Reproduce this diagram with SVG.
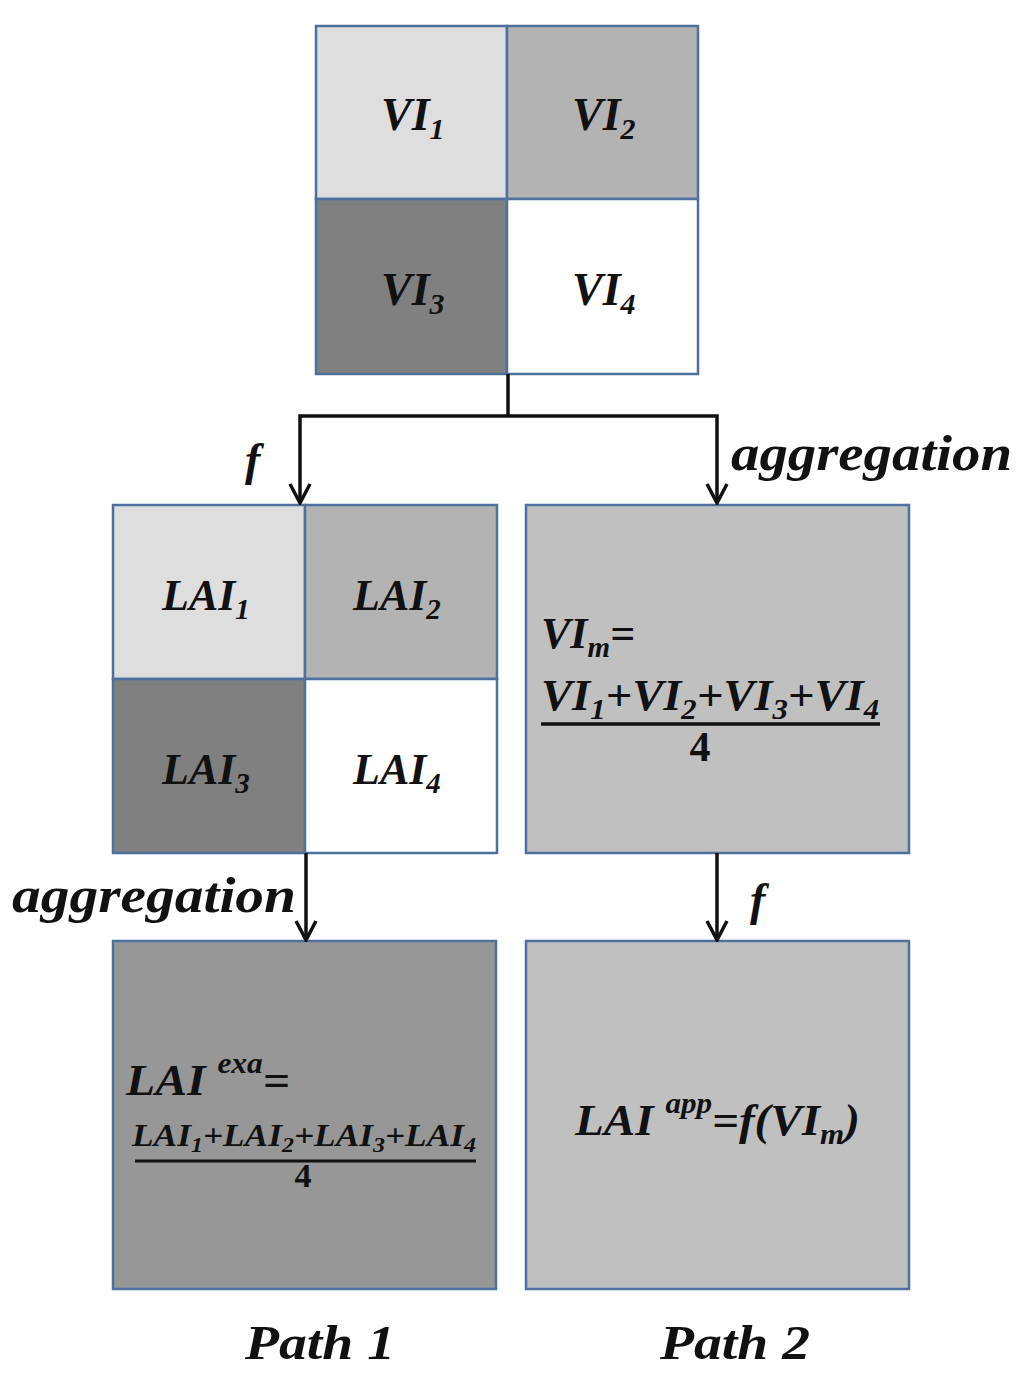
<svg xmlns="http://www.w3.org/2000/svg" width="1024" height="1376" viewBox="0 0 1024 1376">
<defs>
<style>
.c{stroke:#4f6f9c;stroke-width:2.5}
.t{font-family:"Liberation Serif","Times New Roman",serif;font-weight:bold;font-style:italic;fill:#111}
.n{font-family:"Liberation Serif","Times New Roman",serif;font-weight:bold;fill:#111}
.l{stroke:#111;stroke-width:3.5;fill:none}
</style>
<marker id="ah" viewBox="0 0 24 24" refX="22" refY="12" markerWidth="24" markerHeight="24" markerUnits="userSpaceOnUse" orient="auto-start-reverse">
<path d="M3,2 L22,12 L3,22" fill="none" stroke="#111" stroke-width="3.5"/>
</marker>
</defs>
<rect width="1024" height="1376" fill="#fff"/>
<g id="vi-grid">
<rect class="c" x="316" y="26" width="191" height="173" fill="#dedede"/>
<rect class="c" x="507" y="26" width="191" height="173" fill="#b3b3b3"/>
<rect class="c" x="316" y="199" width="191" height="175" fill="#808080"/>
<rect class="c" x="507" y="199" width="191" height="175" fill="#ffffff"/>
<text class="t" x="381" y="130" font-size="46">VI<tspan font-size="30" dy="9">1</tspan></text>
<text class="t" x="572" y="130" font-size="46">VI<tspan font-size="30" dy="9">2</tspan></text>
<text class="t" x="381" y="305" font-size="46">VI<tspan font-size="30" dy="9">3</tspan></text>
<text class="t" x="572" y="305" font-size="46">VI<tspan font-size="30" dy="9">4</tspan></text>
</g>
<g id="lai-grid">
<rect class="c" x="113" y="505" width="192" height="174" fill="#dedede"/>
<rect class="c" x="305" y="505" width="192" height="174" fill="#b3b3b3"/>
<rect class="c" x="113" y="679" width="192" height="174" fill="#808080"/>
<rect class="c" x="305" y="679" width="192" height="174" fill="#ffffff"/>
<text class="t" x="162" y="610" font-size="44">LAI<tspan font-size="29" dy="9">1</tspan></text>
<text class="t" x="353" y="610" font-size="44">LAI<tspan font-size="29" dy="9">2</tspan></text>
<text class="t" x="162" y="784" font-size="44">LAI<tspan font-size="29" dy="9">3</tspan></text>
<text class="t" x="353" y="784" font-size="44">LAI<tspan font-size="29" dy="9">4</tspan></text>
</g>
<g id="vim">
<rect class="c" x="526" y="505" width="383" height="348" fill="#c0c0c0"/>
<text class="t" x="541" y="648" font-size="44">VI<tspan font-size="29" dy="9">m</tspan><tspan dy="-9">=</tspan></text>
<text class="t" x="541" y="710" font-size="44" textLength="338" lengthAdjust="spacingAndGlyphs">VI<tspan font-size="29" dy="9">1</tspan><tspan dy="-9">+VI</tspan><tspan font-size="29" dy="9">2</tspan><tspan dy="-9">+VI</tspan><tspan font-size="29" dy="9">3</tspan><tspan dy="-9">+VI</tspan><tspan font-size="29" dy="9">4</tspan></text>
<line x1="541" y1="724" x2="880" y2="724" stroke="#111" stroke-width="3.5"/>
<text class="n" x="700" y="761" font-size="42" text-anchor="middle">4</text>
</g>
<g id="lai-exa">
<rect class="c" x="113" y="941" width="383" height="348" fill="#979797"/>
<text class="t" x="126" y="1095" font-size="44" textLength="164" lengthAdjust="spacingAndGlyphs">LAI <tspan font-size="29" dy="-22">exa</tspan><tspan dy="22">=</tspan></text>
<text class="t" x="132" y="1146" font-size="31" textLength="344" lengthAdjust="spacingAndGlyphs">LAI<tspan font-size="21" dy="6">1</tspan><tspan dy="-6">+LAI</tspan><tspan font-size="21" dy="6">2</tspan><tspan dy="-6">+LAI</tspan><tspan font-size="21" dy="6">3</tspan><tspan dy="-6">+LAI</tspan><tspan font-size="21" dy="6">4</tspan></text>
<line x1="135" y1="1161" x2="476" y2="1161" stroke="#111" stroke-width="3"/>
<text class="n" x="303" y="1187" font-size="34" text-anchor="middle">4</text>
</g>
<g id="lai-app">
<rect class="c" x="526" y="941" width="383" height="348" fill="#c0c0c0"/>
<text class="t" x="575" y="1135" font-size="44" textLength="285" lengthAdjust="spacingAndGlyphs">LAI <tspan font-size="29" dy="-22">app</tspan><tspan dy="22">=f(VI</tspan><tspan font-size="29" dy="9">m</tspan><tspan dy="-9">)</tspan></text>
</g>
<g id="connectors">
<polyline class="l" points="508,374 508,416"/>
<polyline class="l" points="300,503 300,416 717,416 717,503" marker-start="url(#ah)" marker-end="url(#ah)"/>
<line class="l" x1="306" y1="853" x2="306" y2="940" marker-end="url(#ah)"/>
<line class="l" x1="717" y1="853" x2="717" y2="940" marker-end="url(#ah)"/>
</g>
<g id="labels">
<text class="t" x="245" y="475" font-size="46">f</text>
<text class="t" x="731" y="470" font-size="50" textLength="281" lengthAdjust="spacingAndGlyphs">aggregation</text>
<text class="t" x="12" y="912" font-size="50" textLength="284" lengthAdjust="spacingAndGlyphs">aggregation</text>
<text class="t" x="750" y="915" font-size="46">f</text>
<text class="t" x="245" y="1359" font-size="48" textLength="150" lengthAdjust="spacingAndGlyphs">Path 1</text>
<text class="t" x="660" y="1359" font-size="48" textLength="150" lengthAdjust="spacingAndGlyphs">Path 2</text>
</g>
</svg>
